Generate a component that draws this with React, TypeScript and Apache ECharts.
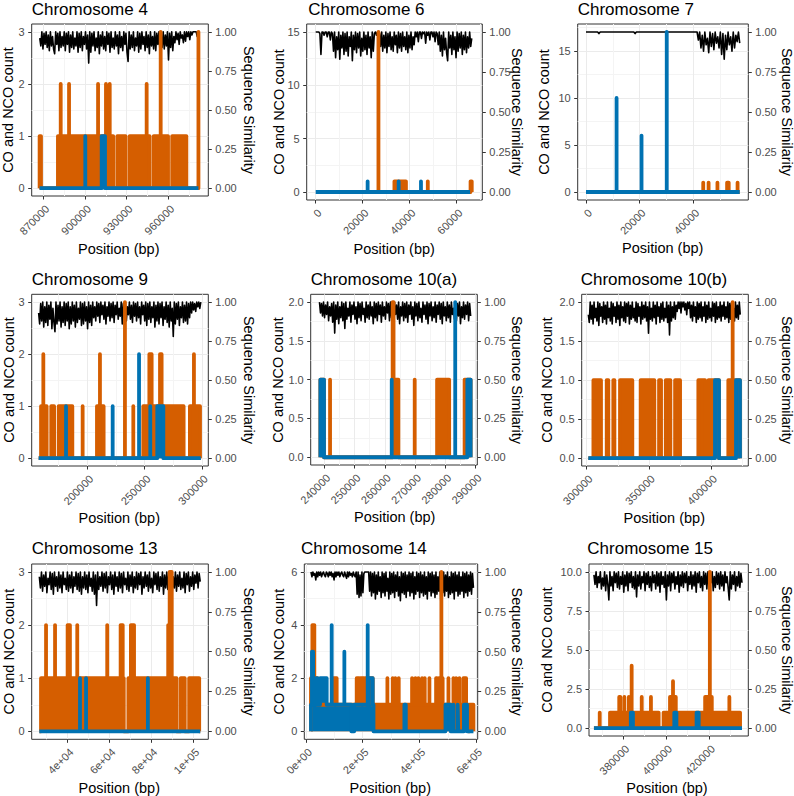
import { useEffect, useRef } from 'react';
import * as echarts from 'echarts';

type Pt = [number, number];

const FONT = '"Liberation Sans", Arial, Helvetica, sans-serif';
const ORANGE = '#D55E00';
const BLUE = '#0072B2';
const BLACK = '#000000';

// ---------- Chromosome 4 ----------
const chr4Orange: Pt[] = [[867300,0],[867300,1],[868300,1],[868300,0],[880500,0],[880500,1],[882500,1],[882500,2],[882500,1],[888500,1],[888500,2],[888500,1],[909400,1],[909400,2],[909400,1],[915100,1],[915100,2],[915100,1],[917800,1],[917800,2],[917800,1],[920300,1],[920300,0],[923300,0],[923300,1],[929200,1],[929200,0],[932200,0],[932200,1],[944400,1],[944400,2],[944400,1],[946500,1],[946500,0],[949500,0],[949500,1],[954500,1],[954500,3],[954500,1],[959800,1],[959800,0],[962800,0],[962800,1],[973000,1],[973000,0],[981700,0],[981700,3],[981700,0]];
const chr4Blue: Pt[] = [[867300,0],[900200,0],[900200,1],[900200,0],[912000,0],[912000,1],[914400,1],[914400,0],[981700,0]];
const chr4SimPct = [
  96,91,100,89,99,92,100,90,98,88, 100,91,97,89,86,100,92,99,88,100,
  90,97,91,100,88,99,92,100,87,98, 90,100,89,96,91,100,87,99,90,100,
  88,97,92,100,89,98,80,100,87,99, 91,100,88,96,90,100,86,98,91,100,
  89,97,88,100,92,99,87,100,90,96, 89,100,91,98,86,100,90,97,88,100,
  92,99,87,81,100,89,98,90,100,88, 96,91,100,87,99,89,100,92,97,88,
  100,90,98,86,100,91,97,89,100,88, 99,92,100,87,97,90,100,89,98,91,
  100,82,99,90,100,88,97,93,100,95, 99,92,100,96,98,93,100,94,100,97,
  100,95,100,98,100,100,100,100,97,100,
];
const chr4XTicks = [870000, 900000, 930000, 960000];
const chr4XLabels = ['870000', '900000', '930000', '960000'];
const chr4XMinor = [885000, 915000, 945000, 975000];

// ---------- Chromosome 6 ----------
const chr6Orange: Pt[] = [[300,0],[26700,0],[26700,15],[26700,0],[33500,0],[33500,1],[38400,1],[38400,0],[47700,0],[47700,1],[47700,0],[65900,0],[65900,1],[66400,1],[66400,0]];
const chr6Blue: Pt[] = [[0,0],[22100,0],[22100,1],[22100,0],[35300,0],[35300,1],[35300,0],[44800,0],[44800,1],[44800,0],[65700,0]];
const chr6SimPct = [
  100,100,100,100,99,86,100,100,98,100, 100,97,100,100,95,100,99,88,100,84,
  97,89,100,83,98,90,100,86,99,88, 100,85,97,91,100,82,98,89,100,87,
  99,90,100,85,96,88,100,89,98,86, 100,90,97,84,100,88,99,100,98,100,
  100,99,91,100,88,98,90,100,87,99, 91,100,89,97,88,100,92,98,87,100,
  90,99,88,100,91,97,89,100,87,98, 90,100,89,97,92,100,97,100,94,100,
  100,96,100,99,100,93,100,98,100,95, 100,100,97,100,94,100,99,92,100,88,
  98,85,100,89,96,87,82,100,90,98, 86,100,89,97,84,100,88,99,90,100,
  86,98,89,100,87,97,90,100,91,96,
];
const chr6XTicks = [0, 20000, 40000, 60000];
const chr6XLabels = ['0', '20000', '40000', '60000'];
const chr6XMinor = [10000, 30000, 50000, 70000];

// ---------- Chromosome 7 ----------
const chr7Orange: Pt[] = [[0,0],[43700,0],[43700,1],[43700,0],[45700,0],[45700,1],[45700,0],[49000,0],[49000,1],[49000,0],[52600,0],[52600,1],[53200,1],[53200,0],[56500,0],[56500,1],[56500,0],[57300,0]];
const chr7Blue: Pt[] = [[0,0],[11400,0],[11400,10],[11400,0],[20700,0],[20700,6],[20700,0],[30100,0],[30100,17],[30100,0],[57300,0]];
const chr7SimPct = [
  100,100,100,100,100,100,100,100,100,100, 99,100,100,100,100,100,100,100,100,100,
  100,100,100,100,100,100,100,100,100,100, 100,100,100,100,100,100,100,100,99,100,
  100,100,100,100,100,100,100,100,100,100, 100,100,100,100,100,100,100,100,100,100,
  100,100,100,100,100,100,100,100,100,100, 100,100,100,100,100,100,100,100,100,100,
  100,100,100,100,100,100,100,95,100,90, 98,88,100,92,96,87,100,91,99,89,
  100,93,97,90,100,86,99,83,98,89, 100,92,97,88,100,90,98,94,100,93,
];
const chr7XTicks = [0, 20000, 40000];
const chr7XLabels = ['0', '20000', '40000'];
const chr7XMinor = [10000, 30000, 50000];

// ---------- Chromosome 9 ----------
const chr9Orange: Pt[] = [[157500,0],[159600,0],[159600,1],[161600,1],[161600,2],[161600,1],[164500,1],[164500,0],[168500,0],[168500,1],[171000,1],[171000,0],[175000,0],[175000,1],[186900,1],[186900,0],[195900,0],[195900,1],[195900,0],[208400,0],[208400,1],[211000,1],[211000,2],[211000,1],[214200,1],[214200,0],[232800,0],[232800,3],[232800,0],[240100,0],[240100,1],[240100,0],[248800,0],[248800,1],[254100,1],[254100,2],[256100,2],[256100,1],[263400,1],[263400,2],[264800,2],[264800,1],[284000,1],[284000,0],[289500,0],[289500,1],[293000,1],[293000,2],[293000,1],[298300,1],[298300,0],[299000,0]];
const chr9Blue: Pt[] = [[157500,0],[181400,0],[181400,1],[181400,0],[222100,0],[222100,1],[222100,0],[245100,0],[245100,2],[245100,0],[254900,0],[254900,1],[254900,0],[261000,0],[261000,1],[266300,1],[266300,0],[299000,0]];
const chr9SimPct = [
  93,86,99,88,100,84,97,87,100,85, 98,89,100,83,96,87,81,100,86,98,
  88,100,84,97,87,100,85,99,88,100, 83,97,86,100,88,98,84,100,87,96,
  89,100,85,99,86,100,88,97,83,100, 87,98,85,100,90,97,88,100,91,99,
  87,100,92,98,89,100,86,97,91,100, 88,99,90,100,87,98,92,100,89,96,
  91,100,86,99,90,100,88,97,92,100, 89,98,87,100,91,99,88,100,90,97,
  86,100,92,98,88,100,85,99,89,100, 87,97,90,100,84,98,88,100,86,99,
  90,100,85,97,89,100,87,98,84,100, 88,96,78,100,86,99,89,100,85,97,
  90,100,87,98,88,100,86,99,90,100, 93,100,95,99,94,100,97,100,96,100,
];
const chr9XTicks = [200000, 250000, 300000];
const chr9XLabels = ['200000', '250000', '300000'];
const chr9XMinor = [175000, 225000, 275000];

// ---------- Chromosome 10(a) ----------
const chr10aOrange: Pt[] = [[238700,0],[238700,1],[239900,1],[239900,0],[241900,0],[241900,1],[241900,0],[262600,0],[262600,2],[262900,2],[262900,1],[264500,1],[264500,0],[269900,0],[269900,1],[269900,0],[277300,0],[277300,1],[281300,1],[281300,0],[286400,0],[286400,1],[288400,1],[288400,0]];
const chr10aBlue: Pt[] = [[238700,0],[238700,1],[239900,1],[239900,0],[262300,0],[262300,1],[262300,0],[283300,0],[283300,2],[283300,0],[287300,0],[287300,1],[288400,1],[288400,0]];
const chr10aSimPct = [
  100,93,99,91,100,90,98,92,100,88, 97,91,99,87,100,80,98,89,100,86,
  97,90,100,88,99,83,100,89,96,91, 100,87,98,92,100,89,97,86,100,90,
  99,88,100,92,96,87,100,90,98,89, 100,91,97,86,100,90,99,88,100,92,
  98,87,100,91,97,89,100,93,99,88, 100,90,96,87,100,92,98,89,100,86,
  97,91,100,88,99,90,100,87,98,92, 100,89,97,85,100,91,99,88,100,90,
  96,87,100,92,98,89,100,86,99,91, 100,88,97,90,100,87,98,92,100,89,
  99,86,100,91,97,88,100,90,98,87, 100,92,96,89,100,88,99,91,100,86,
  97,90,100,89,98,92,100,88,99,91,
];
const chr10aXTicks = [240000, 250000, 260000, 270000, 280000, 290000];
const chr10aXLabels = ['240000', '250000', '260000', '270000', '280000', '290000'];
const chr10aXMinor = [245000, 255000, 265000, 275000, 285000];

// ---------- Chromosome 10(b) ----------
const chr10bOrange: Pt[] = [[301300,0],[305400,0],[305400,1],[311500,1],[311500,0],[316100,0],[316100,1],[317400,1],[317400,0],[321400,0],[321400,1],[322300,1],[322300,0],[326800,0],[326800,1],[336700,1],[336700,0],[343400,0],[343400,1],[354400,1],[354400,0],[358200,0],[358200,1],[359800,1],[359800,0],[363600,0],[363600,1],[367300,1],[367300,0],[371100,0],[371100,1],[375100,1],[375100,0],[389800,0],[389800,1],[395200,1],[395200,0],[398000,0],[398000,1],[406400,1],[406400,0],[413900,0],[413900,1],[417400,1],[417400,2],[417400,1],[423300,1],[423300,0]];
const chr10bBlue: Pt[] = [[301300,0],[403200,0],[403200,1],[406400,1],[406400,0],[420100,0],[420100,1],[423300,1],[423300,0]];
const chr10bSimPct = [
  92,87,100,89,98,86,100,90,96,88, 100,85,99,91,97,87,100,89,98,86,
  100,90,96,88,100,86,99,91,97,87, 100,89,98,85,100,90,97,88,100,87,
  99,91,100,86,98,89,100,90,96,88, 100,87,99,91,97,86,100,89,98,90,
  100,88,97,80,100,89,96,88,100,90, 98,86,100,91,97,87,99,89,100,88,
  96,90,100,87,98,79,100,88,97,90, 100,89,98,94,100,96,100,93,100,97,
  100,95,99,92,100,96,100,90,98,88, 100,91,97,87,100,89,99,90,100,88,
  97,91,100,87,98,89,100,90,96,88, 100,91,99,87,100,89,97,90,100,88,
  98,91,100,89,97,90,100,87,99,89, 100,91,96,88,100,90,98,89,100,92,
];
const chr10bXTicks = [300000, 350000, 400000];
const chr10bXLabels = ['300000', '350000', '400000'];
const chr10bXMinor = [325000, 375000, 425000];

// ---------- Chromosome 13 ----------
const chr13Orange: Pt[] = [[26500,0],[27300,0],[27300,1],[29700,1],[29700,2],[29700,1],[34000,1],[34000,2],[34000,1],[40000,1],[40000,2],[41100,2],[41100,1],[44600,1],[44600,2],[44600,1],[58900,1],[58900,2],[58900,1],[65300,1],[65300,2],[66300,2],[66300,1],[66800,1],[66800,0],[69000,0],[69000,1],[70200,1],[70200,2],[71700,2],[71700,1],[88000,1],[88000,2],[88700,2],[88700,3],[89700,3],[89700,1],[92000,1],[92000,0],[94000,0],[94000,1],[95900,1],[95900,0],[98000,0],[98000,1],[102800,1],[102800,0],[103300,0]];
const chr13Blue: Pt[] = [[26500,0],[45900,0],[45900,1],[45900,0],[48800,0],[48800,1],[48800,0],[78300,0],[78300,1],[78300,0],[103300,0]];
const chr13SimPct = [
  97,90,100,88,98,91,100,87,96,92, 100,89,99,86,100,91,97,88,100,90,
  98,87,100,92,96,89,100,88,98,90, 100,87,97,91,100,89,99,88,100,86,
  97,90,100,89,98,87,100,91,96,88, 100,86,98,79,100,89,97,91,100,88,
  99,90,100,87,97,92,100,89,98,86, 100,91,97,88,100,90,99,87,100,92,
  96,89,100,88,98,91,100,87,97,90, 100,89,99,92,100,86,97,90,100,91,
  98,88,100,90,96,87,100,92,99,89, 100,88,97,91,100,86,98,90,100,89,
  99,92,100,87,97,90,100,88,98,91, 100,89,96,90,100,87,99,92,100,88,
  97,91,100,89,98,93,100,90,99,94,
];
const chr13XTicks = [40000, 60000, 80000, 100000];
const chr13XLabels = ['4e+04', '6e+04', '8e+04', '1e+05'];
const chr13XMinor = [30000, 50000, 70000, 90000];

// ---------- Chromosome 14 ----------
const chr14Orange: Pt[] = [[17600,0],[17600,2],[22500,2],[22500,4],[29400,4],[29400,2],[40000,2],[40000,1],[96500,1],[96500,2],[108200,2],[108200,1],[178800,1],[178800,2],[188200,2],[188200,1],[192000,1],[192000,2],[204700,2],[204700,1],[208000,1],[208000,2],[235300,2],[235300,1],[287100,1],[287100,2],[287100,1],[305900,1],[305900,2],[305900,1],[315000,1],[315000,2],[315000,1],[327100,1],[327100,2],[327100,1],[374100,1],[374100,2],[374100,1],[386000,1],[386000,2],[386000,1],[396500,1],[396500,2],[396500,1],[409400,1],[409400,2],[409400,1],[418800,1],[418800,2],[418800,1],[435300,1],[435300,2],[435300,1],[458800,1],[458800,2],[462000,2],[462000,1],[468500,1],[468500,2],[477500,2],[477500,6],[477500,2],[482000,2],[482000,1],[502400,1],[502400,2],[502400,1],[520000,1],[520000,2],[520000,1],[529400,1],[529400,2],[529400,1],[541200,1],[541200,2],[541200,1],[555300,1],[555300,2],[564700,2],[564700,1],[573000,1],[573000,0],[577000,0],[577000,1],[590600,1],[590600,0]];
const chr14Blue: Pt[] = [[17600,0],[17600,1],[21000,1],[21000,3],[25000,3],[25000,1],[35300,1],[35300,2],[41000,2],[41000,1],[49400,1],[49400,2],[73000,2],[73000,1],[90600,1],[90600,4],[90600,1],[135300,1],[135300,3],[135300,1],[160000,1],[160000,0],[170000,0],[170000,1],[217600,1],[217600,4],[217600,2],[235300,2],[235300,1],[238000,1],[238000,0],[347000,0],[347000,1],[352000,1],[352000,0],[492000,0],[492000,1],[510000,1],[510000,0],[520000,0],[520000,1],[520000,0],[535000,0],[535000,1],[537000,1],[537000,0],[557000,0],[557000,1],[568000,1],[568000,0],[590600,0]];
const chr14SimPct = [
  100,97,100,98,99,95,100,97,100,98, 100,97,99,100,98,97,100,99,97,100,
  98,100,97,99,95,100,97,100,98,100, 97,99,100,98,97,100,98,96,100,97,
  100,98,99,97,100,98,97,100,86,100, 84,98,85,100,87,99,100,100,100,100,
  100,88,100,85,99,87,100,83,98,86, 100,88,97,84,100,87,99,85,100,88,
  96,83,100,86,99,87,100,84,98,88, 100,85,97,82,100,87,99,86,100,84,
  98,88,100,85,99,87,100,83,97,86, 100,88,99,84,100,87,98,85,100,86,
  97,83,100,88,99,85,100,87,98,84, 100,86,97,88,100,82,99,87,100,85,
  98,88,100,84,97,86,100,87,99,83, 100,88,98,85,100,86,97,88,100,84,
  99,87,100,85,98,88,100,86,99,90,
];
const chr14XTicks = [0, 200000, 400000, 600000];
const chr14XLabels = ['0e+00', '2e+05', '4e+05', '6e+05'];
const chr14XMinor = [100000, 300000, 500000];

// ---------- Chromosome 15 ----------
const chr15Orange: Pt[] = [[366300,0],[369000,0],[369000,1],[369000,0],[373800,0],[373800,1],[378100,1],[378100,2],[378600,2],[378600,1],[380500,1],[380500,2],[380500,1],[382600,1],[382600,2],[382600,1],[383900,1],[383900,4],[383900,1],[388600,1],[388600,2],[388600,1],[392900,1],[392900,2],[392900,1],[396500,1],[396500,0],[398800,0],[398800,1],[401800,1],[401800,2],[403200,2],[403200,3],[403200,2],[404500,2],[404500,1],[418200,1],[418200,2],[420400,2],[420400,10],[420400,2],[421300,2],[421300,1],[429500,1],[429500,2],[429500,1],[434500,1],[434500,0],[435400,0]];
const chr15Blue: Pt[] = [[366300,0],[383500,0],[383500,1],[384500,1],[384500,0],[403800,0],[403800,1],[404800,1],[404800,0],[414200,0],[414200,1],[415200,1],[415200,0],[435400,0]];
const chr15SimPct = [
  98,92,100,90,97,93,100,89,96,91, 100,88,98,92,82,100,91,97,88,100,
  93,99,90,100,89,97,92,100,87,98, 91,100,88,99,93,100,90,97,89,100,
  84,98,91,100,89,97,93,100,88,99, 92,100,90,97,88,100,93,98,89,100,
  91,99,87,100,92,97,90,100,82,98, 91,100,88,99,93,100,89,97,92,100,
  87,98,91,100,90,99,93,100,88,97, 92,100,89,98,91,100,87,99,93,100,
  90,97,88,100,92,99,89,100,91,98, 93,100,88,97,90,100,92,99,89,100,
  91,98,88,100,93,97,90,82,100,89, 98,92,100,88,97,91,100,90,99,93,
];
const chr15XTicks = [380000, 400000, 420000];
const chr15XLabels = ['380000', '400000', '420000'];
const chr15XMinor = [370000, 390000, 410000, 430000];

// ---------- shared count / similarity axes ----------
const countTicks3 = [0, 1, 2, 3];
const countLabels3 = ['0', '1', '2', '3'];
const countMinor3 = [0.5, 1.5, 2.5];
const countTicks15 = [0, 5, 10, 15];
const countLabels15 = ['0', '5', '10', '15'];
const countMinor15 = [2.5, 7.5, 12.5];
const countMinor17 = [2.5, 7.5, 12.5, 17.5];
const countTicks2 = [0, 0.5, 1, 1.5, 2];
const countLabels2 = ['0.0', '0.5', '1.0', '1.5', '2.0'];
const countMinor2 = [0.25, 0.75, 1.25, 1.75];
const countTicks6 = [0, 2, 4, 6];
const countLabels6 = ['0', '2', '4', '6'];
const countMinor6 = [1, 3, 5];
const countTicks10 = [0, 2.5, 5, 7.5, 10];
const countLabels10 = ['0.0', '2.5', '5.0', '7.5', '10.0'];
const countMinor10 = [1.25, 3.75, 6.25, 8.75];
const simTicks = [0, 0.25, 0.5, 0.75, 1];
const simLabels = ['0.00', '0.25', '0.50', '0.75', '1.00'];

interface Panel {
  title: string;
  orange: Pt[];
  blue: Pt[];
  sim: number[];
  simFrom: number;
  simTo: number;
  xMin: number; xMax: number;
  xTicks: number[]; xLabels: string[]; xMinor: number[];
  yMin: number; yMax: number;
  yTicks: number[]; yLabels: string[]; yMinor: number[];
  simTop: number;
  box: { left: number; top: number; width: number; height: number };
  lay: { titleX: number; titleY: number; leftX: number; rightX: number; midY: number; xNameX: number; xNameY: number };
}

const panels: Panel[] = [
  {
    title: 'Chromosome 4', orange: chr4Orange, blue: chr4Blue, sim: chr4SimPct, simFrom: 867400, simTo: 981600,
    xMin: 861600, xMax: 988800, xTicks: chr4XTicks, xLabels: chr4XLabels, xMinor: chr4XMinor,
    yMin: -0.15, yMax: 3.15, yTicks: countTicks3, yLabels: countLabels3, yMinor: countMinor3, simTop: 3,
    box: { left: 31.7, top: 24, width: 176.6, height: 172 },
    lay: { titleX: 31.7, titleY: 9, leftX: 8.3, rightX: 249.3, midY: 110, xNameX: 118.8, xNameY: 249.3 },
  },
  {
    title: 'Chromosome 6', orange: chr6Orange, blue: chr6Blue, sim: chr6SimPct, simFrom: 0, simTo: 66400,
    xMin: -3830, xMax: 70894, xTicks: chr6XTicks, xLabels: chr6XLabels, xMinor: chr6XMinor,
    yMin: -0.75, yMax: 15.75, yTicks: countTicks15, yLabels: countLabels15, yMinor: countMinor15, simTop: 15,
    box: { left: 306.7, top: 24, width: 175.6, height: 176 },
    lay: { titleX: 308.3, titleY: 9, leftX: 279, rightX: 517, midY: 112, xNameX: 394.2, xNameY: 249.3 },
  },
  {
    title: 'Chromosome 7', orange: chr7Orange, blue: chr7Blue, sim: chr7SimPct, simFrom: 0, simTo: 57300,
    xMin: -3093, xMax: 60500, xTicks: chr7XTicks, xLabels: chr7XLabels, xMinor: chr7XMinor,
    yMin: -0.85, yMax: 17.85, yTicks: countTicks15, yLabels: countLabels15, yMinor: countMinor17, simTop: 17,
    box: { left: 577.7, top: 24, width: 170.6, height: 176 },
    lay: { titleX: 577.7, titleY: 9, leftX: 544, rightX: 787, midY: 112, xNameX: 662.7, xNameY: 248.3 },
  },
  {
    title: 'Chromosome 9', orange: chr9Orange, blue: chr9Blue, sim: chr9SimPct, simFrom: 157500, simTo: 299000,
    xMin: 151450, xMax: 305530, xTicks: chr9XTicks, xLabels: chr9XLabels, xMinor: chr9XMinor,
    yMin: -0.15, yMax: 3.15, yTicks: countTicks3, yLabels: countLabels3, yMinor: countMinor3, simTop: 3,
    box: { left: 31.7, top: 294.3, width: 176.6, height: 171.7 },
    lay: { titleX: 31.7, titleY: 279, leftX: 9.3, rightX: 249.3, midY: 380, xNameX: 119.3, xNameY: 518.3 },
  },
  {
    title: 'Chromosome 10(a)', orange: chr10aOrange, blue: chr10aBlue, sim: chr10aSimPct, simFrom: 238400, simTo: 288400,
    xMin: 235500, xMax: 290600, xTicks: chr10aXTicks, xLabels: chr10aXLabels, xMinor: chr10aXMinor,
    yMin: -0.1, yMax: 2.1, yTicks: countTicks2, yLabels: countLabels2, yMinor: countMinor2, simTop: 2,
    box: { left: 310.7, top: 294.3, width: 166.6, height: 170.7 },
    lay: { titleX: 310.7, titleY: 279, leftX: 278.3, rightX: 516.7, midY: 380, xNameX: 394.7, xNameY: 517.3 },
  },
  {
    title: 'Chromosome 10(b)', orange: chr10bOrange, blue: chr10bBlue, sim: chr10bSimPct, simFrom: 301300, simTo: 423500,
    xMin: 295980, xMax: 429984, xTicks: chr10bXTicks, xLabels: chr10bXLabels, xMinor: chr10bXMinor,
    yMin: -0.1, yMax: 2.1, yTicks: countTicks2, yLabels: countLabels2, yMinor: countMinor2, simTop: 2,
    box: { left: 581.7, top: 294.3, width: 166.6, height: 171.7 },
    lay: { titleX: 580.7, titleY: 279, leftX: 546.7, rightX: 787, midY: 380, xNameX: 664.3, xNameY: 518.3 },
  },
  {
    title: 'Chromosome 13', orange: chr13Orange, blue: chr13Blue, sim: chr13SimPct, simFrom: 26500, simTo: 103300,
    xMin: 22857, xMax: 107143, xTicks: chr13XTicks, xLabels: chr13XLabels, xMinor: chr13XMinor,
    yMin: -0.15, yMax: 3.15, yTicks: countTicks3, yLabels: countLabels3, yMinor: countMinor3, simTop: 3,
    box: { left: 31.7, top: 564, width: 176.6, height: 175.3 },
    lay: { titleX: 31.7, titleY: 548, leftX: 9.3, rightX: 249.3, midY: 651.7, xNameX: 119.3, xNameY: 787.7 },
  },
  {
    title: 'Chromosome 14', orange: chr14Orange, blue: chr14Blue, sim: chr14SimPct, simFrom: 17600, simTo: 590600,
    xMin: -6000, xMax: 605600, xTicks: chr14XTicks, xLabels: chr14XLabels, xMinor: chr14XMinor,
    yMin: -0.3, yMax: 6.3, yTicks: countTicks6, yLabels: countLabels6, yMinor: countMinor6, simTop: 6,
    box: { left: 304.3, top: 564, width: 173.4, height: 175.3 },
    lay: { titleX: 301, titleY: 548, leftX: 279, rightX: 517, midY: 651.7, xNameX: 390.3, xNameY: 787.7 },
  },
  {
    title: 'Chromosome 15', orange: chr15Orange, blue: chr15Blue, sim: chr15SimPct, simFrom: 366300, simTo: 435400,
    xMin: 363991, xMax: 438343, xTicks: chr15XTicks, xLabels: chr15XLabels, xMinor: chr15XMinor,
    yMin: -0.5, yMax: 10.5, yTicks: countTicks10, yLabels: countLabels10, yMinor: countMinor10, simTop: 10,
    box: { left: 589, top: 564, width: 159.3, height: 172 },
    lay: { titleX: 587.3, titleY: 548, leftX: 546.7, rightX: 787, midY: 650, xNameX: 667, xNameY: 787.7 },
  },
];

function pickLabel(ticks: number[], labels: string[], v: number): string {
  let best = 0;
  for (let k = 1; k < ticks.length; k++) {
    if (Math.abs(ticks[k] - v) < Math.abs(ticks[best] - v)) best = k;
  }
  return labels[best];
}

const TICK_COLOR = '#333333';
const LABEL_COLOR = '#4D4D4D';
const MAJOR_GRID = '#EBEBEB';
const MINOR_GRID = '#F4F4F4';

function buildOption() {
  const grid: any[] = [];
  const xAxis: any[] = [];
  const yAxis: any[] = [];
  const series: any[] = [];
  const graphic: any[] = [];

  const hiddenParts = {
    axisLine: { show: false, onZero: false },
    axisLabel: { show: false },
  };

  panels.forEach((p, i) => {
    grid.push({
      left: p.box.left, top: p.box.top, width: p.box.width, height: p.box.height,
      show: true, borderColor: '#333333', borderWidth: 1, backgroundColor: '#ffffff',
      containLabel: false, outerBoundsMode: 'none',
    });

    const xi = xAxis.length;
    xAxis.push({
      type: 'value', gridIndex: i, min: p.xMin, max: p.xMax, position: 'bottom',
      axisLine: { show: false, onZero: false },
      axisTick: { show: true, length: 3.5, customValues: p.xTicks, lineStyle: { color: TICK_COLOR, width: 1 } },
      axisLabel: {
        customValues: p.xTicks, rotate: 45, margin: 7, verticalAlign: 'top', align: 'right',
        color: LABEL_COLOR, fontSize: 11, fontFamily: FONT,
        formatter: (v: number) => pickLabel(p.xTicks, p.xLabels, v),
      },
      splitLine: { show: true, lineStyle: { color: MAJOR_GRID, width: 1 } },
    });
    xAxis.push({
      type: 'value', gridIndex: i, min: p.xMin, max: p.xMax, position: 'bottom',
      ...hiddenParts,
      axisTick: { show: false, customValues: p.xMinor },
      splitLine: { show: true, lineStyle: { color: MINOR_GRID, width: 1 } },
    });

    const yi = yAxis.length;
    yAxis.push({
      type: 'value', gridIndex: i, min: p.yMin, max: p.yMax, position: 'left',
      axisLine: { show: false, onZero: false },
      axisTick: { show: true, length: 3.5, customValues: p.yTicks, lineStyle: { color: TICK_COLOR, width: 1 } },
      axisLabel: {
        customValues: p.yTicks, margin: 7, color: LABEL_COLOR, fontSize: 11, fontFamily: FONT,
        formatter: (v: number) => pickLabel(p.yTicks, p.yLabels, v),
      },
      splitLine: { show: true, lineStyle: { color: MAJOR_GRID, width: 1 } },
    });
    yAxis.push({
      type: 'value', gridIndex: i, min: p.yMin / p.simTop, max: p.yMax / p.simTop, position: 'right',
      axisLine: { show: false, onZero: false },
      axisTick: { show: true, length: 3.5, customValues: simTicks, lineStyle: { color: TICK_COLOR, width: 1 } },
      axisLabel: {
        customValues: simTicks, margin: 7, color: LABEL_COLOR, fontSize: 11, fontFamily: FONT,
        formatter: (v: number) => pickLabel(simTicks, simLabels, v),
      },
      splitLine: { show: false },
    });
    yAxis.push({
      type: 'value', gridIndex: i, min: p.yMin, max: p.yMax, position: 'left',
      ...hiddenParts,
      axisTick: { show: false, customValues: p.yMinor },
      splitLine: { show: true, lineStyle: { color: MINOR_GRID, width: 1 } },
    });

    // similarity windows are evenly spaced between the first and last window position
    const n = p.sim.length;
    const simData = p.sim.map((v, k) => [p.simFrom + (k * (p.simTo - p.simFrom)) / (n - 1), v / 100]);

    series.push({
      type: 'line', xAxisIndex: xi, yAxisIndex: yi + 1, data: simData,
      showSymbol: false, symbol: 'none', silent: true,
      lineStyle: { color: BLACK, width: 1.6, join: 'round' },
    });
    series.push({
      type: 'line', xAxisIndex: xi, yAxisIndex: yi, data: p.orange,
      showSymbol: false, symbol: 'none', silent: true,
      lineStyle: { color: ORANGE, width: 3.8, join: 'round', cap: 'butt' },
      areaStyle: { color: ORANGE, opacity: 1 },
    });
    series.push({
      type: 'line', xAxisIndex: xi, yAxisIndex: yi, data: p.blue,
      showSymbol: false, symbol: 'none', silent: true,
      lineStyle: { color: BLUE, width: 3.8, join: 'round', cap: 'butt' },
      areaStyle: { color: BLUE, opacity: 1 },
    });

    graphic.push({
      type: 'text', x: p.lay.titleX, y: p.lay.titleY,
      style: { text: p.title, fontSize: 17, fontFamily: FONT, fill: '#000000', align: 'left', verticalAlign: 'middle' },
    });
    graphic.push({
      type: 'text', x: p.lay.leftX, y: p.lay.midY, rotation: Math.PI / 2,
      style: { text: 'CO and NCO count', fontSize: 14.5, fontFamily: FONT, fill: '#000000', align: 'center', verticalAlign: 'middle' },
    });
    graphic.push({
      type: 'text', x: p.lay.rightX, y: p.lay.midY, rotation: -Math.PI / 2,
      style: { text: 'Sequence Similarity', fontSize: 14.5, fontFamily: FONT, fill: '#000000', align: 'center', verticalAlign: 'middle' },
    });
    graphic.push({
      type: 'text', x: p.lay.xNameX, y: p.lay.xNameY,
      style: { text: 'Position (bp)', fontSize: 14.5, fontFamily: FONT, fill: '#000000', align: 'center', verticalAlign: 'middle' },
    });
  });

  return {
    animation: false,
    backgroundColor: '#ffffff',
    textStyle: { fontFamily: FONT },
    grid, xAxis, yAxis, series, graphic,
  };
}

export default function App() {
  const ref = useRef<HTMLDivElement>(null);

  useEffect(() => {
    document.body.style.margin = '0';
    if (!ref.current) return;
    const chart = echarts.init(ref.current, undefined, { renderer: 'svg' });
    chart.setOption(buildOption() as any);
    return () => chart.dispose();
  }, []);

  return <div ref={ref} style={{ width: 794, height: 796 }} />;
}
